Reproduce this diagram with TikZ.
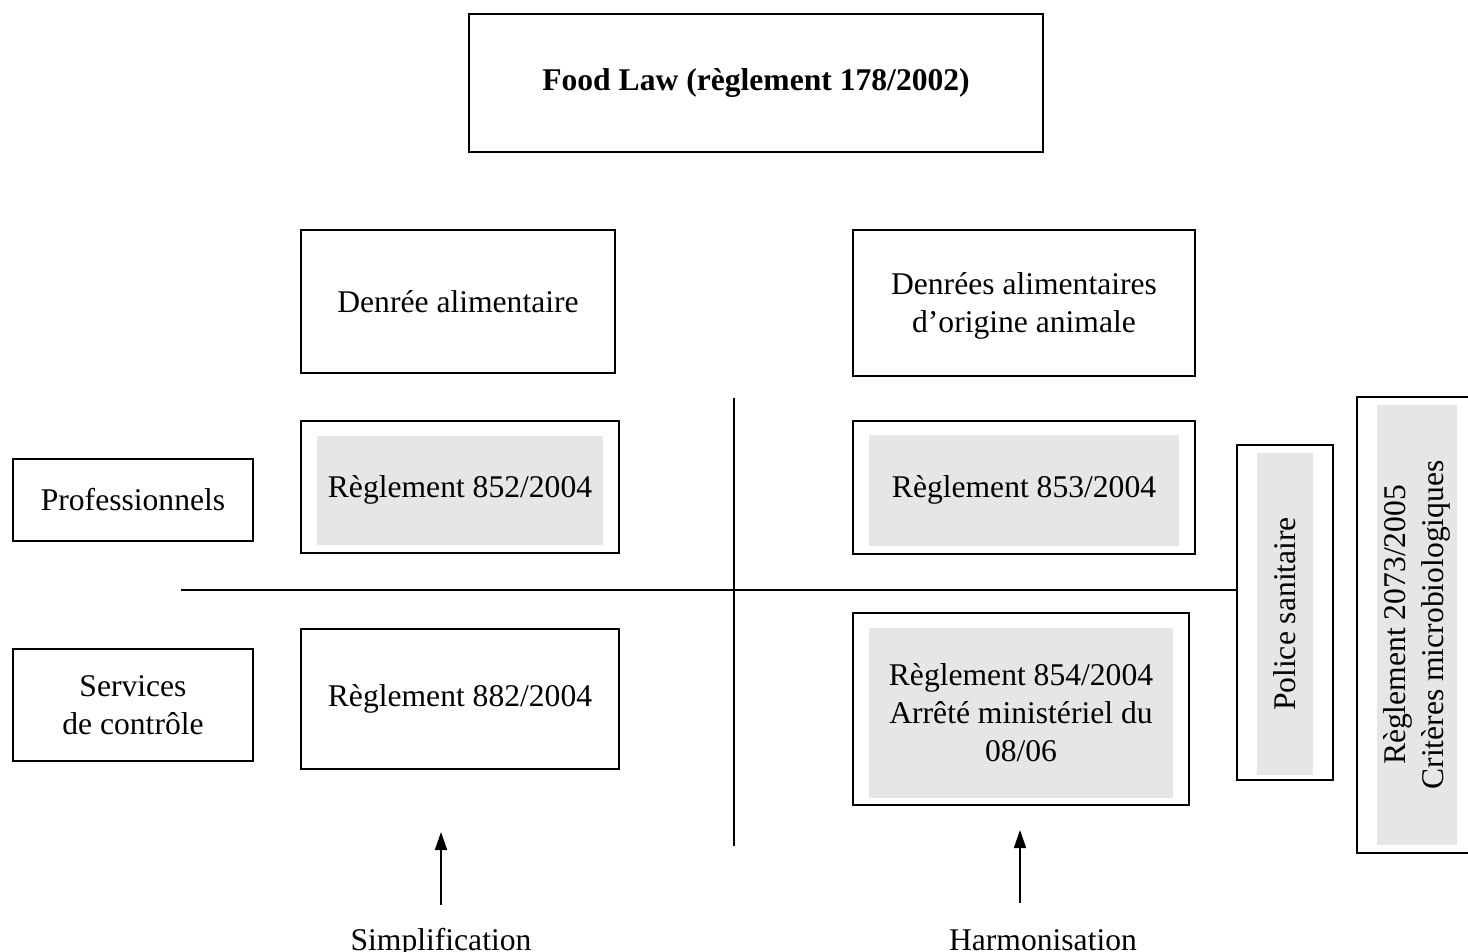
\documentclass[tikz,border=0pt]{standalone}
\usepackage{fontspec}
\setmainfont{Liberation Serif}
\usepackage{tikz}
\usetikzlibrary{arrows.meta}
\definecolor{fondgris}{RGB}{230,230,230}
\tikzset{
  cadre/.style = {rectangle, draw=black, line width=1pt, inner sep=0pt,
    align=center, font=\fontsize{15.8}{19}\selectfont},% cadre simple
  cadre_g/.style = {rectangle, fill=fondgris, inner sep=0pt,
    align=center, font=\fontsize{15.8}{19}\selectfont},% fond gris
  libre/.style = {inner sep=0pt, align=center, anchor=base,
    font=\fontsize{15.8}{19}\selectfont},
  trait/.style = {black, line width=1pt},
  fleche/.style = {-{Triangle[length=9pt,width=6pt]}, black, line width=0.8pt},
}
\begin{document}
\begin{tikzpicture}[x=0.5pt,y=-0.5pt]
  \useasboundingbox (0,0) rectangle (1468,952);
%   en-tete
  \node[cadre, minimum width=287pt, minimum height=69pt, font=\fontsize{15.8}{19}\selectfont\bfseries] (food) at (756,83) {Food Law (règlement 178/2002)};
%   colonnes
  \node[cadre, minimum width=157pt, minimum height=71.5pt] (denree) at (458,301.5) {Denrée alimentaire};
  \node[cadre, minimum width=171pt, minimum height=73pt, text depth=-6pt] (animale) at (1024,303) {Denrées alimentaires\\d’origine animale};
%   lignes
  \node[cadre, minimum width=120pt, minimum height=41pt] (pro) at (133,500) {Professionnels};
  \node[cadre, minimum width=120pt, minimum height=56pt] (serv) at (133,705) {Services\\de contrôle};
%   reglements
  \node[cadre, minimum width=159pt, minimum height=66pt] (r852) at (460,487) {};
  \node[cadre_g, minimum width=143pt, minimum height=54.5pt] (r852g) at (460,490) {Règlement 852/2004};
  \node[cadre, minimum width=171pt, minimum height=66.5pt] (r853) at (1024,487.5) {};
  \node[cadre_g, minimum width=155pt, minimum height=55.5pt] (r853g) at (1024,490) {Règlement 853/2004};
  \node[cadre, minimum width=159pt, minimum height=70pt] (r882) at (460,699) {Règlement 882/2004};
  \node[cadre, minimum width=168pt, minimum height=96pt] (r854) at (1021,709) {};
  \node[cadre_g, minimum width=152pt, minimum height=85pt] (r854g) at (1021,713) {Règlement 854/2004\\Arrêté ministériel du\\08/06};
%   verticaux
  \node[cadre, minimum width=48pt, minimum height=167.5pt] (police) at (1285,612.5) {};
  \node[cadre_g, minimum width=161pt, minimum height=28pt, rotate=90] (policeg) at (1285,614) {Police sanitaire};
  \node[cadre, minimum width=56.5pt, minimum height=228pt] (r2073) at (1413.5,625) {};
  \node[cadre_g, minimum width=220pt, minimum height=40pt, rotate=90] (r2073g) at (1417,625) {Règlement 2073/2005\\Critères microbiologiques};
%   axes
  \coordinate (hg) at (181,590);
  \coordinate (vh) at (734,398);
  \coordinate (vb) at (734,846);
  \draw[trait] (hg) -- (hg -| police.west);
  \draw[trait] (vh) -- (vb);
%   fleches
  \node[libre] (simp) at (441,950) {Simplification};
  \node[libre] (harm) at (1043,950) {Harmonisation};
  \coordinate (s0) at (441,905);
  \coordinate (s1) at (441,832);
  \coordinate (h0) at (1020,903);
  \coordinate (h1) at (1020,830);
  \draw[fleche] (s0) -- (s1);
  \draw[fleche] (h0) -- (h1);
\end{tikzpicture}
\end{document}
